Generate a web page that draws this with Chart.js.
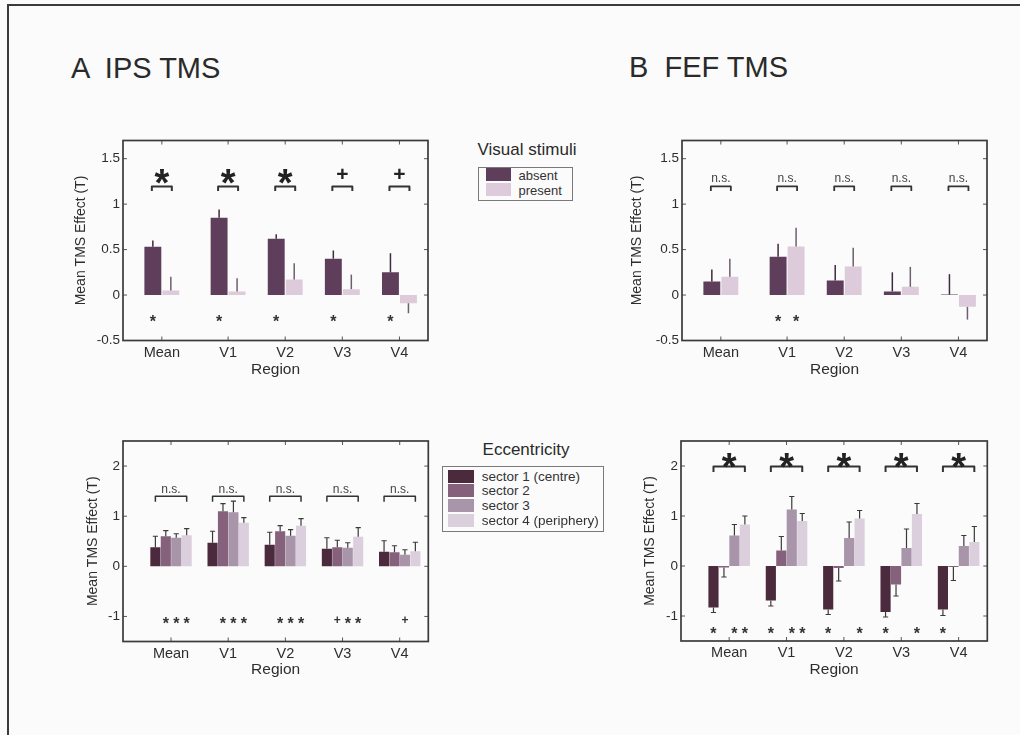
<!DOCTYPE html>
<html><head><meta charset="utf-8">
<script src="https://cdn.jsdelivr.net/npm/chart.js@4.4.0/dist/chart.umd.min.js"></script>
<style>
html,body{margin:0;padding:0;background:#fbfbfb;}
body{width:1020px;height:735px;position:relative;overflow:hidden;font-family:"Liberation Sans",Arial,sans-serif;color:#2a2a2a;}
.frame{position:absolute;left:7px;top:4px;width:1100px;height:800px;border-left:2px solid #3a3a3a;border-top:2px solid #3a3a3a;}
canvas{position:absolute;}
.t{position:absolute;white-space:pre;line-height:1;}
.c{transform:translate(-50%,-50%);}
.box{position:absolute;border:1px solid #7a7a7a;box-sizing:border-box;}
.sw{position:absolute;}
</style></head>
<body>
<div class="frame"></div>
<div class="t" style="left:71px;top:54px;font-size:29px;">A  IPS TMS</div>
<div class="t" style="left:629px;top:53px;font-size:29px;">B  FEF TMS</div>
<div class="t c" style="left:527px;top:149px;font-size:17px;">Visual stimuli</div>
<div class="t c" style="left:526px;top:449px;font-size:17px;">Eccentricity</div>
<div id="legStim" class="box" style="left:478px;top:166.5px;width:95px;height:34.5px;"></div>
<div id="legEcc" class="box" style="left:441.5px;top:466px;width:162px;height:66px;"></div>
<canvas id="cTA" width="410" height="280" style="left:30px;top:120px;"></canvas>
<canvas id="cTB" width="410" height="280" style="left:590px;top:120px;"></canvas>
<canvas id="cBA" width="410" height="290" style="left:30px;top:420px;"></canvas>
<canvas id="cBB" width="410" height="290" style="left:590px;top:420px;"></canvas>
<script>
// ---------- data ----------
const regions = ['Mean', 'V1', 'V2', 'V3', 'V4'];
const topRegionX = [0.84, 2, 3, 4, 5];
const bottomRegionX = [1, 2, 3, 4, 5];
const topYTicks = [-0.5, 0, 0.5, 1, 1.5];
const bottomYTicks = [-1, 0, 1, 2];
const stimulusLabels = ['absent', 'present'];
const sectorLabels = ['sector 1 (centre)', 'sector 2', 'sector 3', 'sector 4 (periphery)'];

// A: IPS TMS, visual stimuli
const ipsAbsent = [0.53, 0.85, 0.62, 0.40, 0.25];
const ipsAbsentErr = [0.07, 0.09, 0.05, 0.09, 0.21];
const ipsAbsentMarks = ['*', '*', '*', '*', '*'];
const ipsPresent = [0.05, 0.04, 0.17, 0.065, -0.09];
const ipsPresentErr = [0.15, 0.145, 0.18, 0.16, 0.11];
const ipsPresentMarks = ['', '', '', '', ''];
const ipsStimSig = ['*', '*', '*', '+', '+'];

// B: FEF TMS, visual stimuli
const fefAbsent = [0.15, 0.42, 0.16, 0.04, 0.005];
const fefAbsentErr = [0.13, 0.145, 0.17, 0.21, 0.225];
const fefAbsentMarks = ['', '*', '', '', ''];
const fefPresent = [0.20, 0.535, 0.315, 0.09, -0.13];
const fefPresentErr = [0.20, 0.205, 0.205, 0.22, 0.14];
const fefPresentMarks = ['', '*', '', '', ''];
const fefStimSig = ['n.s.', 'n.s.', 'n.s.', 'n.s.', 'n.s.'];

// A: IPS TMS, eccentricity
const ipsS1 = [0.38, 0.47, 0.43, 0.35, 0.29];
const ipsS1Err = [0.22, 0.23, 0.25, 0.22, 0.22];
const ipsS1Marks = ['', '', '', '', ''];
const ipsS2 = [0.60, 1.10, 0.70, 0.38, 0.28];
const ipsS2Err = [0.11, 0.15, 0.11, 0.14, 0.13];
const ipsS2Marks = ['*', '*', '*', '+', ''];
const ipsS3 = [0.57, 1.08, 0.61, 0.37, 0.23];
const ipsS3Err = [0.08, 0.22, 0.12, 0.10, 0.10];
const ipsS3Marks = ['*', '*', '*', '*', '+'];
const ipsS4 = [0.62, 0.87, 0.81, 0.59, 0.30];
const ipsS4Err = [0.13, 0.10, 0.14, 0.18, 0.18];
const ipsS4Marks = ['*', '*', '*', '*', ''];
const ipsEccSig = ['n.s.', 'n.s.', 'n.s.', 'n.s.', 'n.s.'];

// B: FEF TMS, eccentricity
const fefS1 = [-0.83, -0.69, -0.87, -0.92, -0.87];
const fefS1Err = [0.10, 0.11, 0.10, 0.10, 0.12];
const fefS1Marks = ['*', '*', '*', '*', '*'];
const fefS2 = [-0.03, 0.31, -0.04, -0.37, -0.02];
const fefS2Err = [0.19, 0.28, 0.26, 0.23, 0.27];
const fefS2Marks = ['', '', '', '', ''];
const fefS3 = [0.61, 1.13, 0.56, 0.36, 0.40];
const fefS3Err = [0.22, 0.26, 0.32, 0.38, 0.21];
const fefS3Marks = ['*', '*', '', '', ''];
const fefS4 = [0.83, 0.90, 0.95, 1.04, 0.48];
const fefS4Err = [0.17, 0.15, 0.16, 0.21, 0.31];
const fefS4Marks = ['*', '*', '*', '*', ''];
const fefEccSig = ['*', '*', '*', '*', '*'];

// ---------- styles ----------
const stimColors = ['#5e3e5b', '#ddcbdc'];
const stimErrColors = ['#3f2a3e', '#6f5f6f'];
const sectorColors = ['#4c2a3e', '#86617c', '#a895a9', '#dccfdd'];
const FONT = '"Liberation Sans", Arial, sans-serif';
const TXT = '#2e2e2e';

function glyph(ctx, s, x, yc, size, color) {
  ctx.fillStyle = color;
  ctx.textAlign = 'center';
  ctx.textBaseline = 'alphabetic';
  if (s === '*') {
    ctx.font = 'bold ' + size + 'px ' + FONT;
    ctx.fillText('*', x, yc + 0.57 * size);
  } else if (s === '+') {
    ctx.font = 'bold ' + size + 'px ' + FONT;
    ctx.fillText('+', x, yc + 0.35 * size);
  }
}

function decor(cfg) {
  return {
    id: 'decor',
    afterDatasetsDraw(chart) {
      const ctx = chart.ctx, ys = chart.scales.y;
      ctx.save();
      chart.data.datasets.forEach((ds, di) => {
        const meta = chart.getDatasetMeta(di);
        meta.data.forEach((bar, i) => {
          const v = ds.data[i].y, e = ds.errors[i], dir = v < 0 ? -1 : 1;
          const p0 = ys.getPixelForValue(v), p1 = ys.getPixelForValue(v + dir * e);
          ctx.strokeStyle = ds.errColor; ctx.lineWidth = cfg.errWidth; ctx.lineCap = 'butt';
          ctx.beginPath(); ctx.moveTo(bar.x, p0); ctx.lineTo(bar.x, p1);
          if (cfg.cap) { ctx.moveTo(bar.x - cfg.cap, p1); ctx.lineTo(bar.x + cfg.cap, p1); }
          ctx.stroke();
          const m = ds.marks[i];
          if (m) glyph(ctx, m, bar.x, ys.getPixelForValue(cfg.markY), m === '*' ? cfg.markStar : cfg.markPlus, '#333');
        });
      });
      const n = chart.data.datasets.length;
      const m0 = chart.getDatasetMeta(0), m1 = chart.getDatasetMeta(n - 1);
      cfg.sig.forEach((s, i) => {
        const xa = m0.data[i].x - cfg.bracketOut, xb = m1.data[i].x + cfg.bracketOut;
        const yb = ys.getPixelForValue(cfg.bracketY);
        ctx.strokeStyle = '#333'; ctx.lineWidth = cfg.bracketW; ctx.lineJoin = 'round';
        ctx.beginPath(); ctx.moveTo(xa, yb + cfg.leg); ctx.lineTo(xa, yb); ctx.lineTo(xb, yb); ctx.lineTo(xb, yb + cfg.leg); ctx.stroke();
        const xc = (xa + xb) / 2;
        if (s === 'n.s.') {
          ctx.fillStyle = '#444'; ctx.font = cfg.nsSize + 'px ' + FONT;
          ctx.textAlign = 'center'; ctx.textBaseline = 'alphabetic';
          ctx.fillText(s, xc, ys.getPixelForValue(cfg.nsY));
        } else {
          glyph(ctx, s, xc, ys.getPixelForValue(cfg.sigY), s === '*' ? cfg.sigStar : cfg.sigPlus, '#222');
        }
      });
      ctx.restore();
    },
    afterDraw(chart) {
      const ctx = chart.ctx, a = chart.chartArea, xs = chart.scales.x, ys = chart.scales.y;
      ctx.save();
      ctx.strokeStyle = '#555'; ctx.lineWidth = 1;
      ctx.beginPath();
      ys.ticks.forEach(t => {
        const p = ys.getPixelForValue(t.value);
        ctx.moveTo(a.left, p); ctx.lineTo(a.left + 4, p);
        ctx.moveTo(a.right, p); ctx.lineTo(a.right - 4, p);
      });
      xs.ticks.forEach(t => {
        const p = xs.getPixelForValue(t.value);
        ctx.moveTo(p, a.top); ctx.lineTo(p, a.top + 4);
        ctx.moveTo(p, a.bottom); ctx.lineTo(p, a.bottom - 4);
      });
      ctx.stroke();
      ctx.strokeStyle = '#3a3a3a'; ctx.lineWidth = 1.7;
      ctx.strokeRect(a.left, a.top, a.right - a.left, a.bottom - a.top);
      ctx.restore();
    }
  };
}

function makeChart(id, cfg) {
  const datasets = cfg.series.map(s => ({
    label: s.label,
    data: cfg.xs.map((x, i) => ({ x: x, y: s.values[i] })),
    errors: s.errors, marks: s.marks, errColor: s.errColor,
    backgroundColor: s.color, borderWidth: 0,
    categoryPercentage: cfg.catPct, barPercentage: cfg.barPct
  }));
  return new Chart(document.getElementById(id), {
    type: 'bar',
    data: { datasets: datasets },
    options: {
      responsive: false, animation: false, events: [],
      layout: { padding: { left: 0, top: cfg.padTop, right: cfg.padRight, bottom: 0 } },
      plugins: { legend: { display: false }, tooltip: { enabled: false } },
      scales: {
        x: {
          type: 'linear', bounds: 'data', offset: false, min: 0.16, max: 5.5,
          grid: { display: false, drawTicks: false, tickLength: 0 }, border: { display: false },
          afterBuildTicks: sc => { sc.ticks = cfg.xs.map(v => ({ value: v })); },
          afterFit: sc => { sc.height = cfg.xH; },
          ticks: { autoSkip: false, maxRotation: 0, padding: cfg.xTickPad, color: TXT,
                   font: { family: FONT, size: 14.5 }, callback: (v, i) => regions[i] },
          title: { display: true, text: 'Region', color: TXT, font: { family: FONT, size: 15.5 },
                   padding: { top: 0, bottom: cfg.xTitlePad } }
        },
        y: {
          type: 'linear', bounds: 'data', min: cfg.yMin, max: cfg.yMax,
          grid: { display: false, drawTicks: false, tickLength: 0 }, border: { display: false },
          afterBuildTicks: sc => { sc.ticks = cfg.yTicks.map(v => ({ value: v })); },
          afterFit: sc => { sc.width = cfg.yW; },
          ticks: { padding: 3, color: TXT, font: { family: FONT, size: 13.5 }, callback: v => String(v) },
          title: { display: true, text: 'Mean TMS Effect (T)', color: TXT, font: { family: FONT, size: 14 },
                   padding: { top: cfg.yTitlePad, bottom: 0 } }
        }
      }
    },
    plugins: [decor(cfg)]
  });
}

const topCommon = { xs: topRegionX, yTicks: topYTicks, yMin: -0.5, yMax: 1.7, catPct: 0.63, barPct: 0.94,
  padTop: 20.5, xH: 59.5, xTickPad: 4, xTitlePad: 21, errWidth: 1.5, cap: 0,
  markY: -0.25, markStar: 16, markPlus: 12, bracketY: 1.195, leg: 4.5, bracketW: 2, bracketOut: 1,
  sigY: 1.33, sigStar: 38, sigPlus: 21, nsY: 1.245, nsSize: 12 };
const botCommon = { xs: bottomRegionX, yTicks: bottomYTicks, yMin: -1.5, yMax: 2.5, catPct: 0.73, barPct: 0.97,
  padTop: 21, xTickPad: 3.4, xTitlePad: 31, errWidth: 1.2, cap: 2.6,
  markStar: 16, markPlus: 12, leg: 5.5, bracketOut: 0, sigStar: 38, sigPlus: 21, nsSize: 12 };

makeChart('cTA', Object.assign({}, topCommon, { padRight: 12, yW: 93, yTitlePad: 42.6, sig: ipsStimSig,
  series: [
    { label: stimulusLabels[0], values: ipsAbsent, errors: ipsAbsentErr, marks: ipsAbsentMarks, color: stimColors[0], errColor: stimErrColors[0] },
    { label: stimulusLabels[1], values: ipsPresent, errors: ipsPresentErr, marks: ipsPresentMarks, color: stimColors[1], errColor: stimErrColors[1] }
  ] }));
makeChart('cTB', Object.assign({}, topCommon, { padRight: 13, yW: 92, yTitlePad: 38.6, sig: fefStimSig, bracketW: 1.8,
  series: [
    { label: stimulusLabels[0], values: fefAbsent, errors: fefAbsentErr, marks: fefAbsentMarks, color: stimColors[0], errColor: stimErrColors[0] },
    { label: stimulusLabels[1], values: fefPresent, errors: fefPresentErr, marks: fefPresentMarks, color: stimColors[1], errColor: stimErrColors[1] }
  ] }));
const ipsSectors = [[ipsS1, ipsS1Err, ipsS1Marks], [ipsS2, ipsS2Err, ipsS2Marks], [ipsS3, ipsS3Err, ipsS3Marks], [ipsS4, ipsS4Err, ipsS4Marks]];
const fefSectors = [[fefS1, fefS1Err, fefS1Marks], [fefS2, fefS2Err, fefS2Marks], [fefS3, fefS3Err, fefS3Marks], [fefS4, fefS4Err, fefS4Marks]];
makeChart('cBA', Object.assign({}, botCommon, { padRight: 11.7, yW: 93, xH: 68.5, yTitlePad: 54.6, sig: ipsEccSig,
  markY: -1.07, bracketY: 1.4, bracketW: 1.5, nsY: 1.46,
  series: ipsSectors.map((s, k) => ({ label: sectorLabels[k], values: s[0], errors: s[1], marks: s[2], color: sectorColors[k], errColor: '#3a3a3a' })) }));
makeChart('cBB', Object.assign({}, botCommon, { padRight: 12.7, yW: 91, xH: 69, yTitlePad: 51.6, sig: fefEccSig,
  markY: -1.27, bracketY: 1.99, bracketW: 2, sigY: 2.15, nsY: 2.1,
  series: fefSectors.map((s, k) => ({ label: sectorLabels[k], values: s[0], errors: s[1], marks: s[2], color: sectorColors[k], errColor: '#3a3a3a' })) }));

// ---------- legends ----------
function buildLegend(id, labels, colors, opt) {
  labels.forEach((lab, k) => {
    const sw = document.createElement('div');
    sw.className = 'sw';
    sw.style.cssText = 'left:' + opt.swLeft + 'px;top:' + (opt.top + k * opt.pitch) + 'px;width:' + opt.swW + 'px;height:' + opt.swH + 'px;background:' + colors[k] + ';';
    document.body.appendChild(sw);
    const tx = document.createElement('div');
    tx.className = 't';
    tx.textContent = lab;
    tx.style.cssText = 'left:' + opt.txLeft + 'px;top:' + (opt.top + k * opt.pitch + opt.swH / 2 + opt.txDy) + 'px;font-size:' + opt.font + 'px;transform:translateY(-50%);color:#333;';
    document.body.appendChild(tx);
  });
}
buildLegend('legStim', stimulusLabels, stimColors, { swLeft: 486, swW: 25, swH: 13, top: 168.3, pitch: 14.5, txLeft: 518.5, txDy: 0.5, font: 13 });
buildLegend('legEcc', sectorLabels, sectorColors, { swLeft: 448.3, swW: 25.7, swH: 13, top: 469.5, pitch: 14.8, txLeft: 481.7, txDy: 0.5, font: 13.5 });
</script>
</body></html>
